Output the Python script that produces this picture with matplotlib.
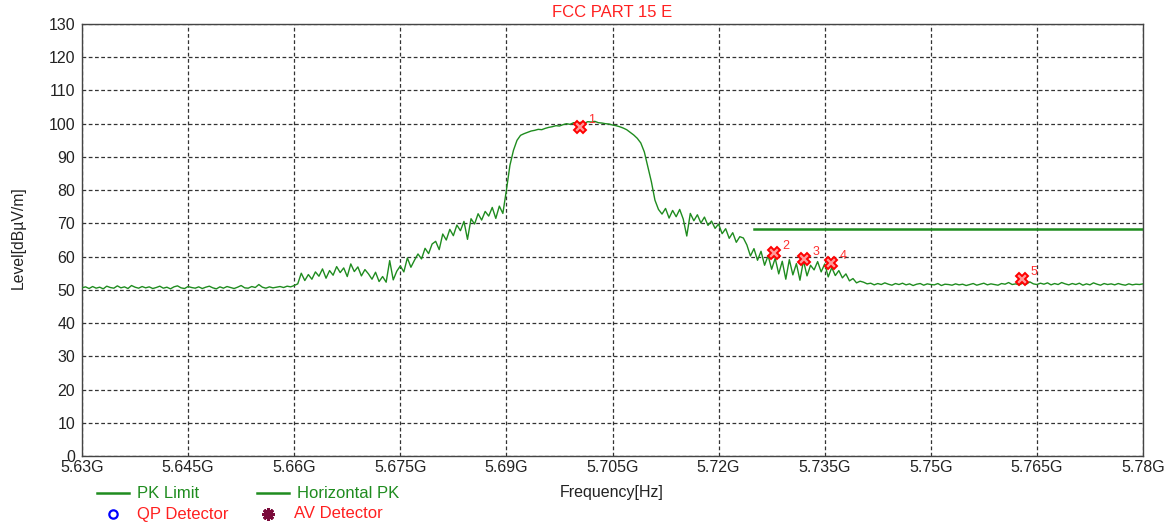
import numpy as np
import matplotlib
matplotlib.use("Agg")
import matplotlib.pyplot as plt
from matplotlib.lines import Line2D

plt.rcParams['font.family'] = ['Liberation Sans', 'DejaVu Sans']

# ---------------- data ----------------
f_start, f_stop, f_step = 5.63e9, 5.78e9, 0.0005e9

seg_floor_low = [50.6,50.9,50.4,51.0,50.5,50.8,50.3,51.1,50.7,50.5,
                 51.2,50.6,50.9,50.4,51.3,50.8,50.5,51.0,50.6,50.9,
                 50.4,50.7,51.1,50.5,50.8,50.3,50.9,51.2,50.6,50.4,
                 51.0,50.7,50.5,50.9,50.4,50.8,51.1,50.6,50.3,50.9,
                 50.5,51.0,50.7,50.4,50.8,51.3,50.6,50.5,51.0,50.7,
                 51.6,50.8,50.5,50.9,50.6,50.8,51.0,50.7,51.1,50.9,51.3]
seg_lower_side = [51.8,
                  55.0,52.8,54.6,53.2,55.4,
                  54.1,56.3,53.5,55.8,54.4,57.0,55.2,56.6,54.0,57.8,
                  55.5,56.9,54.2,56.1,
                  54.8,53.2,55.3,52.5,54.0,52.3,58.8,53.0,55.6,
                  57.2,55.4,59.6,56.8,58.9,
                  60.8,59.3,62.5,60.9,63.8,
                  64.6,62.1,66.8,65.0,68.2,
                  66.3,69.5,67.8,70.6,65.2,
                  71.4,69.8,72.9,71.0,73.6,
                  72.2,74.8,71.5,75.2,73.0]
seg_main_lobe = [80.0,87.5,92.0,95.0,96.5,97.0,97.4,97.8,98.0,98.3,
                 98.2,98.6,98.9,99.1,99.4,99.3,99.7,100.0,99.8,100.3,
                 100.2,100.4,100.1,100.6,100.5,100.7,100.3,100.2,100.0,99.9,
                 99.6,99.4,99.1,98.7,98.2,97.4,96.6,95.6,94.2,91.5,
                 87.0,82.5,77.0,74.2]
seg_upper_side = [72.8,74.5,71.6,73.9,72.0,74.2,71.3,66.2,73.0,70.8,
                  72.6,70.1,71.9,69.4,70.7,68.5,69.8,
                  66.9,68.4,65.5,67.2,64.3,66.0,65.6,
                  63.5,60.2,62.4,58.9,61.6,57.4,60.3,
                  56.2,59.5,54.8,58.6,53.2,59.1,54.5,
                  57.9,52.9,58.8,54.2,57.4,56.0,58.5,
                  55.4,57.8,53.9,56.7,54.3,55.8,
                  53.6,54.8,52.7,53.4,52.1,52.6]
seg_floor_high = [52.3,51.8,52.0,51.5,51.9,51.6,52.1,51.7,51.4,51.9,
                  51.6,52.0,51.5,51.8,51.3,51.7,51.9,51.4,51.8,51.6,
                  51.5,51.9,51.3,51.7,51.6,51.4,51.8,51.5,51.7,51.3,
                  51.6,51.9,51.4,51.7,52.0,51.5,51.8,51.6,51.4,51.9,
                  51.7,52.2,51.6,51.8,51.5,52.0,51.7,52.4,51.8,51.6,
                  52.0,51.7,52.1,51.5,51.9,51.6,52.2,51.8,51.5,51.9,
                  51.6,52.0,51.4,51.8,51.5,52.1,51.7,51.4,51.9,51.6,
                  51.8,51.5,51.9,51.6,51.4,51.8,51.5,51.7,51.6,51.8]

limit_freq = [5.725e9, 5.78e9]
limit_level = [68.2, 68.2]

marker_ids = ["1", "2", "3", "4", "5"]
marker_freq = [5.7004e9, 5.7278e9, 5.7321e9, 5.7359e9, 5.7629e9]
marker_level = [99.0, 61.1, 59.3, 58.1, 53.3]

x_ticks = [5.63e9, 5.645e9, 5.66e9, 5.675e9, 5.69e9, 5.705e9, 5.72e9,
           5.735e9, 5.75e9, 5.765e9, 5.78e9]
x_tick_labels = ["5.63G", "5.645G", "5.66G", "5.675G", "5.69G", "5.705G",
                 "5.72G", "5.735G", "5.75G", "5.765G", "5.78G"]
y_ticks = list(range(0, 131, 10))

# ---------------- build trace ----------------
trace = seg_floor_low + seg_lower_side + seg_main_lobe + seg_upper_side + seg_floor_high
freq = np.linspace(f_start, f_stop, len(trace))

# ---------------- figure ----------------
W, H = 1171, 525
fig = plt.figure(figsize=(W / 100, H / 100), dpi=100)
ax = fig.add_axes([82 / W, 1 - 456 / H, (1143 - 82) / W, (456 - 24) / H])

green = '#1f8c1f'
ax.plot(freq, trace, color=green, lw=1.0, zorder=3)
ax.plot(limit_freq, limit_level, color=green, lw=1.8, zorder=3)

ax.plot(marker_freq, marker_level, linestyle='none', marker='X', ms=9,
        mfc='#ff9a9a', mec='red', mew=1.4, zorder=5)
for mid, mf, ml in zip(marker_ids, marker_freq, marker_level):
    ax.annotate(mid, (mf, ml), xytext=(6, 3), textcoords='offset points',
                color='#ff3030', fontsize=9, zorder=6)

ax.set_xlim(f_start, f_stop)
ax.set_ylim(0, 130)
ax.set_xticks(x_ticks)
ax.set_xticklabels(x_tick_labels)
ax.set_yticks(y_ticks)
ax.tick_params(axis='both', length=0, labelsize=11.5, colors='#222222')
ax.tick_params(axis='y', pad=5)
ax.tick_params(axis='x', pad=3)
ax.grid(True, color='#333333', linestyle=(0, (3, 2)), lw=0.9)
for s in ax.spines.values():
    s.set_color('#444444')
    s.set_linewidth(1.0)

ax.set_title("FCC PART 15 E", color='#ff2020', fontsize=12, pad=5)
fig.text(18 / W, 1 - 238 / H, "Level[dBµV/m]", rotation=90, ha='center',
         va='center', fontsize=11.3, color='#222222')
fig.text(612 / W, 1 - 492 / H, "Frequency[Hz]", ha='center', va='center',
         fontsize=11.5, color='#222222')

# ---------------- legend (manual) ----------------
def fx(px):
    return px / W

def fy(py):
    return 1 - py / H

fig.add_artist(Line2D([fx(97), fx(129)], [fy(493), fy(493)], color=green,
                      lw=1.8, transform=fig.transFigure))
fig.text(fx(137), fy(493), "PK Limit", color=green, fontsize=12, va='center')
fig.add_artist(Line2D([fx(257), fx(289)], [fy(493), fy(493)], color=green,
                      lw=1.8, transform=fig.transFigure))
fig.text(fx(297), fy(493), "Horizontal PK", color=green, fontsize=12, va='center')
fig.add_artist(Line2D([fx(113)], [fy(514)], marker='o', ms=6, mfc='none',
                      mec='blue', mew=1.6, transform=fig.transFigure))
fig.text(fx(137), fy(514), "QP Detector", color='#ff2020', fontsize=12, va='center')
fig.add_artist(Line2D([fx(268)], [fy(514)], marker=(8, 2, 0), ms=9,
                      mec='#7a0a3a', mew=2.2, transform=fig.transFigure))
fig.add_artist(Line2D([fx(268)], [fy(514)], marker='o', ms=5, mfc='#7a0a3a',
                      mec='#7a0a3a', transform=fig.transFigure))
fig.text(fx(294), fy(514), "AV Detector", color='#ff2020', fontsize=12, va='center')

fig.savefig("out.png", dpi=100, facecolor='white')
